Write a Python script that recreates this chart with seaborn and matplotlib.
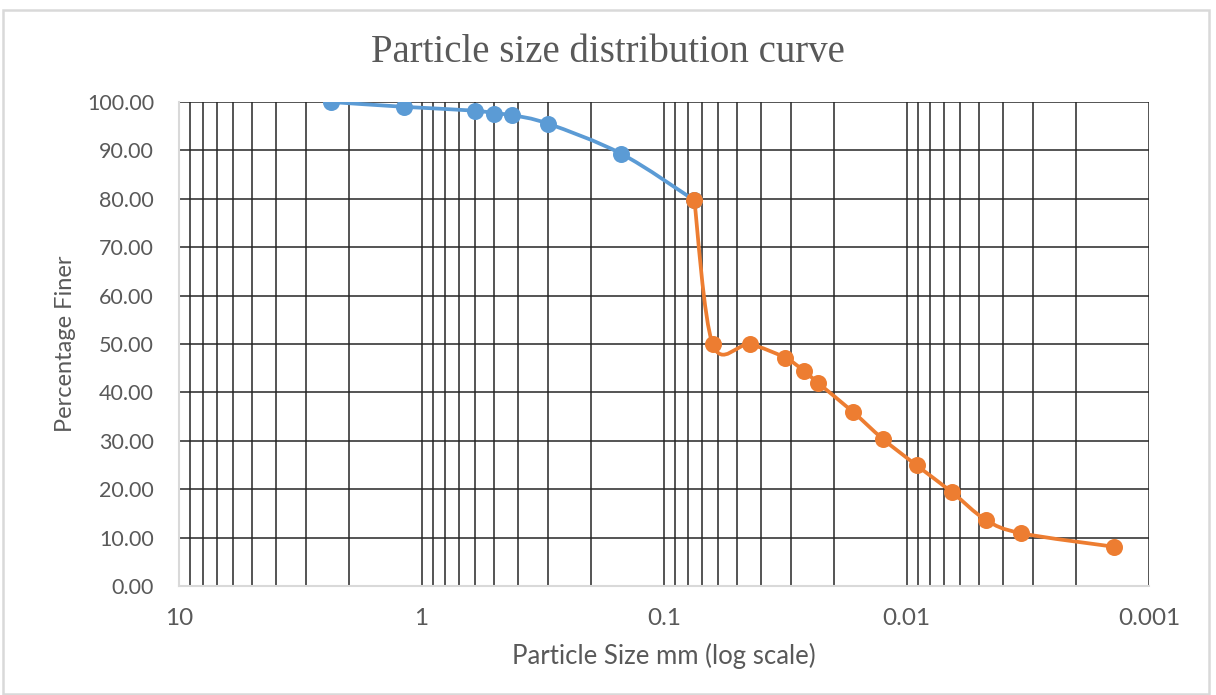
import numpy as np
import matplotlib
matplotlib.use("Agg")
import matplotlib.pyplot as plt
from matplotlib.path import Path
from matplotlib.patches import PathPatch, Rectangle
from matplotlib.ticker import LogLocator, FixedLocator, FuncFormatter, NullFormatter
import seaborn as sns
import pandas as pd

# Sieve analysis (coarse fraction)
sieve_size_mm = [2.36, 1.18, 0.6, 0.5, 0.425, 0.3, 0.15, 0.075]
sieve_finer = [100.0, 99.0, 98.2, 97.6, 97.3, 95.5, 89.3, 79.7]

# Hydrometer analysis (fine fraction)
hydro_size_mm = [0.075, 0.0629, 0.0444, 0.0318, 0.0264, 0.0231, 0.01665,
                 0.01253, 0.00907, 0.0065, 0.00472, 0.00336, 0.00139]
hydro_finer = [79.7, 49.9, 49.9, 47.2, 44.4, 41.9, 36.0,
               30.4, 24.9, 19.4, 13.7, 10.9, 8.1]

y_ticks = [0, 10, 20, 30, 40, 50, 60, 70, 80, 90, 100]

BLUE = "#5B9BD5"
ORANGE = "#ED7D31"
TEXT = "#595959"
AXIS_GRAY = "#D9D9D9"

sns.set_theme(style="white")
plt.rcParams["font.family"] = ["Lato", "DejaVu Sans"]

fig = plt.figure(figsize=(12.16, 6.95), dpi=100)
fig.patch.set_facecolor("white")
ax = fig.add_axes([179 / 1216, 1 - 586 / 695, (1149 - 179) / 1216, (586 - 102) / 695])


def smooth_path(xs, ys):
    """Cubic Bezier path through the points (Catmull-Rom tangents in log-x space)."""
    lx = np.log10(np.asarray(xs, dtype=float))
    yy = np.asarray(ys, dtype=float)
    pts = np.column_stack([lx, yy])
    n = len(pts)
    verts = [pts[0]]
    codes = [Path.MOVETO]
    for i in range(n - 1):
        p0 = pts[i - 1] if i > 0 else pts[i]
        p1 = pts[i]
        p2 = pts[i + 1]
        p3 = pts[i + 2] if i + 2 < n else pts[i + 1]
        c1 = p1 + (p2 - p0) / 6.0
        c2 = p2 - (p3 - p1) / 6.0
        verts += [c1, c2, p2]
        codes += [Path.CURVE4] * 3
    verts = np.array(verts)
    verts[:, 0] = 10 ** verts[:, 0]
    return Path(verts, codes)


df_sieve = pd.DataFrame({"size": sieve_size_mm, "finer": sieve_finer})
df_hydro = pd.DataFrame({"size": hydro_size_mm, "finer": hydro_finer})

ax.set_xscale("log")
ax.set_xlim(10, 0.001)
ax.set_ylim(0, 100)

for df, color, z in [(df_sieve, BLUE, 3), (df_hydro, ORANGE, 5)]:
    ax.add_patch(PathPatch(smooth_path(df["size"], df["finer"]), fill=False,
                           edgecolor=color, lw=2.7, capstyle="round",
                           joinstyle="round", zorder=z))
    sns.scatterplot(data=df, x="size", y="finer", ax=ax, color=color, s=150,
                    edgecolor=color, linewidth=0, zorder=z + 1, legend=False)

# Grid: every decade and sub-decade vertically, every 10 % horizontally
ax.xaxis.set_major_locator(LogLocator(base=10, numticks=10))
ax.xaxis.set_minor_locator(LogLocator(base=10, subs=np.arange(2, 10), numticks=20))
ax.xaxis.set_major_formatter(FuncFormatter(lambda v, p: f"{v:g}"))
ax.xaxis.set_minor_formatter(NullFormatter())
ax.yaxis.set_major_locator(FixedLocator(y_ticks))
ax.yaxis.set_minor_locator(FixedLocator(np.arange(0, 101, 2)))
ax.yaxis.set_major_formatter(FuncFormatter(lambda v, p: f"{v:.2f}"))

ax.grid(True, which="both", axis="x", color="#262626", lw=1.1, zorder=1)
ax.grid(True, which="major", axis="y", color="#262626", lw=1.1, zorder=1)
ax.set_axisbelow(True)

for side in ["top", "right"]:
    ax.spines[side].set_visible(False)
for side in ["left", "bottom"]:
    ax.spines[side].set_color(AXIS_GRAY)
    ax.spines[side].set_linewidth(1.5)
    ax.spines[side].set_zorder(2)

ax.tick_params(axis="both", which="both", direction="in", color=AXIS_GRAY,
               width=1.0, labelcolor=TEXT)
ax.tick_params(axis="y", which="both", length=6, pad=18, labelsize=15.5)
ax.tick_params(axis="x", which="both", length=6, pad=16, labelsize=17.5)
ax.tick_params(axis="x", which="major", length=0)

ax.set_xlabel("Particle Size mm (log scale)", color=TEXT, fontsize=18.5, labelpad=10)
ax.set_ylabel("Percentage Finer", color=TEXT, fontsize=17, labelpad=8)

fig.text(0.5, 1 - 52 / 695, "Particle size distribution curve",
         ha="center", va="center", color=TEXT, fontsize=28,
         family=["Liberation Serif", "DejaVu Serif"])

fig.patches.append(Rectangle((3 / 1216, 1 - 694 / 695), 1206 / 1216, 684 / 695,
                             transform=fig.transFigure, fill=False,
                             edgecolor=AXIS_GRAY, lw=1.8))

fig.savefig("out.png", dpi=100, facecolor="white")
